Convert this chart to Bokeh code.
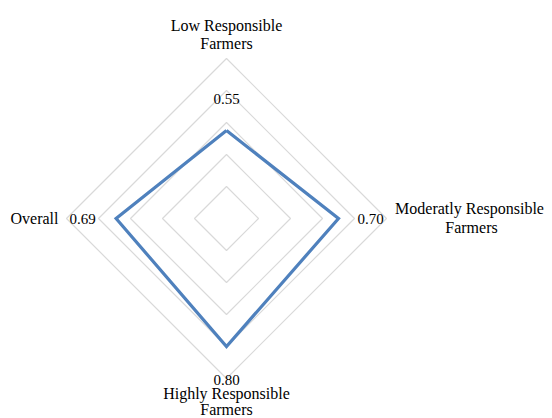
import math
from bokeh.plotting import figure
from bokeh.models import ColumnDataSource
from bokeh.core.properties import value
from bokeh.embed import file_html
from bokeh.resources import INLINE

# ---- data ----
categories = ["Low Responsible Farmers", "Moderatly  Responsible Farmers",
              "Highly Responsible Farmers", "Overall"]
cat_lines = [["Low Responsible", "Farmers"],
             ["Moderatly  Responsible", "Farmers"],
             ["Highly Responsible", "Farmers"],
             ["Overall"]]
values = [0.55, 0.70, 0.80, 0.69]
value_labels = ["0.55", "0.70", "0.80", "0.69"]
ring_levels = [0.2, 0.4, 0.6, 0.8, 1.0]

# ---- layout ----
W, H = 552, 418
PX = 160.0  # pixels per unit radius
cx_px, cy_px = 226, 218  # center in figure pixels from left/top
p = figure(width=W, height=H, output_backend="svg", toolbar_location=None,
           x_range=(-cx_px / PX, (W - cx_px) / PX),
           y_range=(-(H - cy_px) / PX, cy_px / PX),
           min_border=0, outline_line_color=None)
p.axis.visible = False
p.grid.visible = False
p.background_fill_color = "white"

n = len(categories)
angles = [math.pi / 2 - 2 * math.pi * i / n for i in range(n)]

# rings
for r in ring_levels:
    xs = [r * math.cos(a) for a in angles] + [r * math.cos(angles[0])]
    ys = [r * math.sin(a) for a in angles] + [r * math.sin(angles[0])]
    p.line(xs, ys, line_color="#D9D9D9", line_width=1.2)

# data polygon
dx = [v * math.cos(a) for v, a in zip(values, angles)]
dy = [v * math.sin(a) for v, a in zip(values, angles)]
p.line(dx + dx[:1], dy + dy[:1], line_color="#4F81BD", line_width=3.2,
       line_join="miter")

font = value("Liberation Serif")

# value labels (offsets in pixels relative to center)
val_pos = [(0, 120), (144, 0), (0, -161), (-144, 0)]
vsrc = ColumnDataSource(dict(x=[a / PX for a, b in val_pos],
                             y=[b / PX for a, b in val_pos],
                             t=value_labels))
p.text(x="x", y="y", text="t", source=vsrc, text_font=font,
       text_font_size="15px", text_color="#000000",
       text_align="center", text_baseline="middle")

# category labels: (x offset, y offset, align, line height)
cat_pos = [(0, 193, "center", 18), (245, 10, "center", 19),
           (0, -175, "center", 16), (-168, 0, "right", 18)]
for lines, (x0, y0, al, lh) in zip(cat_lines, cat_pos):
    xs = [x0 / PX] * len(lines)
    ys = [(y0 - k * lh) / PX for k in range(len(lines))]
    p.text(x=xs, y=ys, text=lines, text_font=font, text_font_size="16px",
           text_color="#000000", text_align=al, text_baseline="middle")

open("out.html", "w").write(file_html(p, INLINE))
